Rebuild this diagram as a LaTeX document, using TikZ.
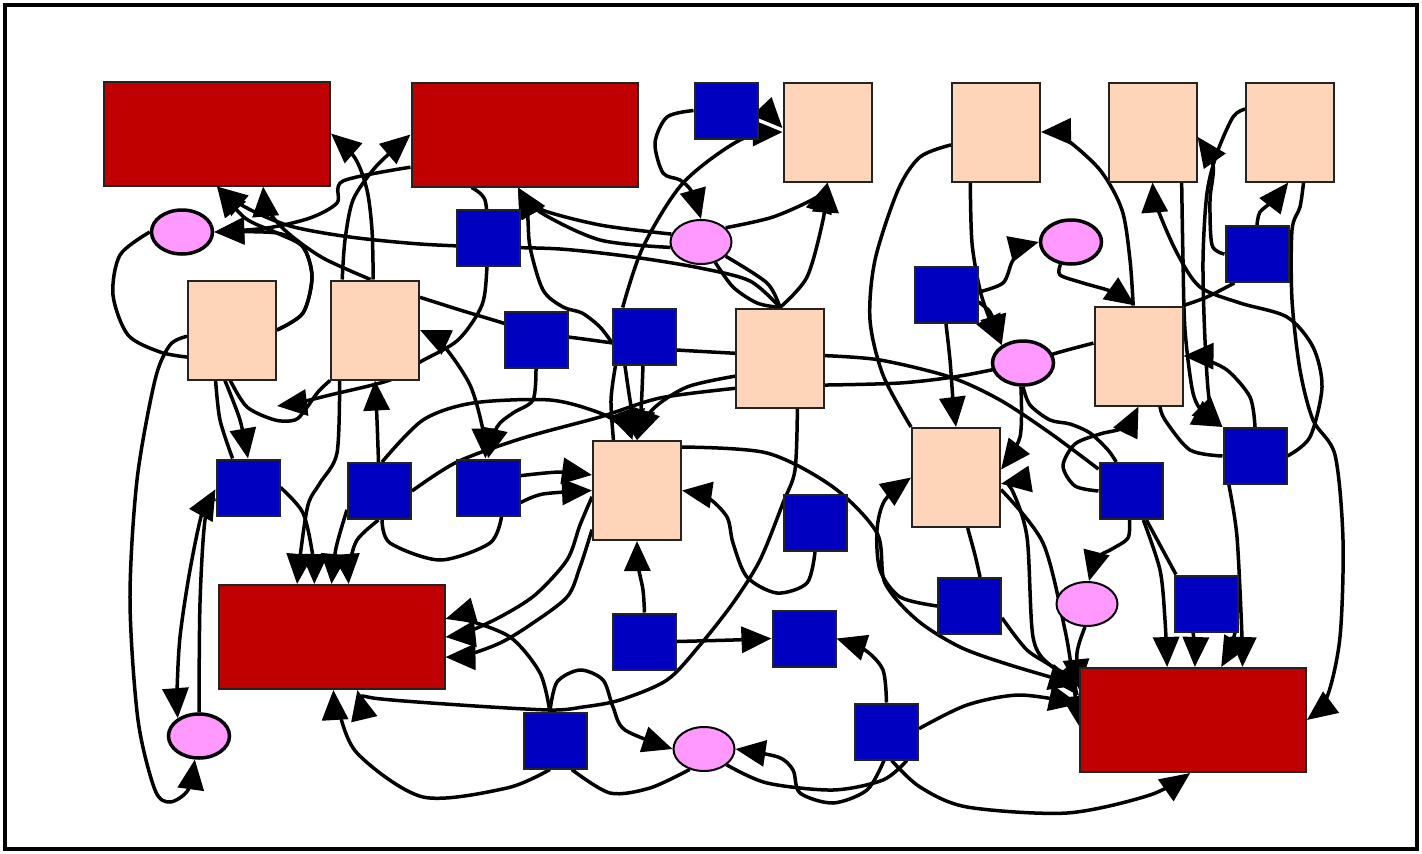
\documentclass[tikz,border=0pt]{standalone}
\usetikzlibrary{shapes.geometric,arrows.meta}
\pgfdeclarelayer{edges}
\pgfsetlayers{edges,main}
\definecolor{redfill}{RGB}{192,0,0}
\definecolor{peachfill}{RGB}{255,213,186}
\definecolor{bluefill}{RGB}{0,0,192}
\definecolor{pinkfill}{RGB}{255,153,255}
\definecolor{rim}{RGB}{35,35,35}
\tikzset{
  redbox/.style={rectangle, draw=rim, line width=2pt, fill=redfill, minimum width=226pt, minimum height=104pt, inner sep=0pt},
  peachbox/.style={rectangle, draw=rim, line width=2pt, fill=peachfill, minimum width=88pt, minimum height=99pt, inner sep=0pt},
  bluebox/.style={rectangle, draw=rim, line width=2pt, fill=bluefill, minimum width=63pt, minimum height=56pt, inner sep=0pt},
  pinkell/.style={ellipse, draw=black, line width=3.5pt, fill=pinkfill, minimum width=61pt, minimum height=44pt, inner sep=0pt},
  thinell/.style={pinkell, line width=2pt},
  edge/.style={line width=3.5pt, line join=round},
  tip/.style={Triangle[length=30pt,width=26pt]},
  arr/.style={edge, -{Triangle[length=30pt,width=26pt]}},
  arr2/.style={edge, {Triangle[length=30pt,width=26pt]}-{Triangle[length=30pt,width=26pt]}},
}
\begin{document}
\begin{tikzpicture}[x=1pt,y=-1pt]
\useasboundingbox (0,0) rectangle (1422,854);
\draw[line width=4.5pt] (5,5) rectangle (1417,849);

% red boxes
\node[redbox] (R1) at (217,133.5) {};
\node[redbox] (R2) at (524.5,134.5) {};
\node[redbox] (R3) at (331.5,637) {};
\node[redbox] (R4) at (1193,720) {};
% peach boxes
\node[peachbox] (P1) at (827.5,132) {};
\node[peachbox] (P2) at (996,132) {};
\node[peachbox] (P3) at (1152.5,132) {};
\node[peachbox] (P4) at (1290,132) {};
\node[peachbox] (P5) at (232,330) {};
\node[peachbox] (P6) at (375,330) {};
\node[peachbox] (P7) at (780,358) {};
\node[peachbox] (P8) at (1138.5,356) {};
\node[peachbox] (P9) at (637,490.5) {};
\node[peachbox] (P10) at (956,477.5) {};
% blue squares
\node[bluebox] (B1) at (726,110.5) {};
\node[bluebox] (B2) at (488,238) {};
\node[bluebox] (B3) at (1257,254) {};
\node[bluebox] (B4) at (946,295) {};
\node[bluebox] (B5) at (536,340) {};
\node[bluebox] (B6) at (644.5,336.5) {};
\node[bluebox] (B7) at (248,487.5) {};
\node[bluebox] (B8) at (379.5,491) {};
\node[bluebox] (B9) at (488,487.5) {};
\node[bluebox] (B10) at (815,523) {};
\node[bluebox] (B11) at (1131,491) {};
\node[bluebox] (B12) at (1255,456) {};
\node[bluebox] (B13) at (969.5,606) {};
\node[bluebox] (B14) at (1206,603.5) {};
\node[bluebox] (B15) at (644.5,641.5) {};
\node[bluebox] (B16) at (804,638.5) {};
\node[bluebox] (B17) at (555,740.5) {};
\node[bluebox] (B18) at (886.5,731.5) {};
% pink ellipses
\node[pinkell] (E1) at (182,232) {};
\node[thinell] (E2) at (701,242) {};
\node[pinkell] (E3) at (1071,242) {};
\node[pinkell] (E4) at (1023,363) {};
\node[thinell] (E5) at (1087,604) {};
\node[pinkell] (E6) at (199,736) {};
\node[thinell] (E7) at (704,749) {};
\coordinate (x1) at (277,406);

\begin{pgfonlayer}{edges}
% upper left
\draw[arr] plot[smooth] coordinates {(R2.196) (343,181) (337,203) (310,218) (267,228) (E1.east)};
\draw[arr] plot[smooth] coordinates {(P5.east) (303,313) (312,277) (303,247) (277,233) (E1.east)};
\draw[arr] plot[smooth] coordinates {(P5.east) (303,313) (312,277) (303,247) (277,233) (245,218) (R1.south)};
\draw[edge] plot[smooth] coordinates {(E1.west) (120,255) (113,295) (128,335) (160,352) (P5.211)};
\draw[arr] plot[smooth] coordinates {(P5.188) (170,345) (155,380) (137,480) (130,600) (138,720) (155,790) (170,802) (188,790) (E6.-100)};
\draw[arr] plot[smooth] coordinates {(P7.north) (750,281) (700,268) (633,257) (560,249) (488,247) (420,244) (350,237) (290,226) (245,207) (R1.south)};
\draw[arr] plot[smooth] coordinates {(P6.95) (323,258) (288,233) (268,210) (R1.-49)};
\draw[arr] plot[smooth] coordinates {(P6.123) (345,240) (353,200) (373,170) (393,150) (R2.west)};
\draw[arr] plot[smooth] coordinates {(P6.92) (372,230) (367,190) (355,158) (R1.east)};
\draw[arr] plot[smooth] coordinates {(R2.-135) (485,200) (488,238) (487,267) (482,305) (458,340) (420,362) (390,380) (330,395) (297,403) (x1)};
\draw[edge] plot[smooth] coordinates {(P6.36) (460,310) (503,323) (536,334) (568,337) (613,343) (644,347) (677,350) (P7.174)};
% middle and right
\draw[edge] plot[smooth] coordinates {(P7.3) (880,360) (950,377) (1000,400) (1050,433) (B11.146)};
\draw[edge] plot[smooth] coordinates {(P7.-31) (900,383) (960,376) (1023,363) (1060,352) (P8.164)};
\draw[edge] plot[smooth] coordinates {(E4.south) (1030,405) (1050,420) (1070,424) (1090,433) (1108,450) (B11.117)};
\draw[arr] plot[smooth] coordinates {(B11.west) (1075,486) (1063,466) (1075,444) (1100,434) (1125,427) (P8.south)};
\draw[arr] plot[smooth] coordinates {(B11.-93) (1128,538) (1112,549) (1097,558) (E5.85)};
\draw[arr] plot[smooth] coordinates {(B11.-67) (1160,570) (1165,620) (R4.116)};
\draw[edge] plot[smooth] coordinates {(B11.-62) (1160,545) (B14.136)};
\draw[arr] plot[smooth] coordinates {(B14.-114) (1195,650) (R4.88)};
\draw[arr] plot[smooth] coordinates {(B14.-45) (1230,650) (R4.62)};
\draw[arr] plot[smooth] coordinates {(B12.-132) (1237,537) (1242,637) (R4.47)};
\draw[arr] plot[smooth] coordinates {(P4.-75) (1300,207) (1292,230) (1292,300) (1300,370) (1313,420) (1335,455) (1343,540) (1340,637) (1327,697) (R4.east)};
\draw[arr] plot[smooth] coordinates {(B12.east) (1310,437) (1322,387) (1313,347) (1287,317) (1240,303) (1200,287) (1177,253) (1157,207) (P3.south)};
\draw[arr] plot[smooth] coordinates {(B12.north) (1250,397) (1227,370) (1200,358) (P8.east)};
\draw[edge] plot[smooth] coordinates {(B12.west) (1190,450) (1165,420) (P8.-67)};
\draw[arr] plot[smooth] coordinates {(P3.-60) (1183,260) (1185,330) (1193,393) (1205,415) (B12.north west)};
\draw[arr] plot[smooth] coordinates {(P4.153) (1233,117) (1217,153) (1207,193) (1203,260) (1205,340) (1210,405) (B12.north west)};
\draw[arr] plot[smooth] coordinates {(B3.west) (1212,245) (1210,200) (1213,165) (P3.-6)};
\draw[arr] plot[smooth] coordinates {(B3.north) (1260,212) (1274,200) (P4.-92)};
\draw[edge] plot[smooth] coordinates {(B3.-128) (1207,297) (P8.north east)};
\draw[arr] plot[smooth] coordinates {(P8.96) (1130,260) (1122,210) (1100,170) (1063,137) (P2.east)};
\draw[arr] plot[smooth] coordinates {(E3.-115) (1060,275) (1083,283) (1113,292) (P8.94)};
\draw[arr] plot[smooth] coordinates {(B4.5) (1003,283) (1012,262) (1022,248) (E3.west)};
\draw[arr] plot[smooth] coordinates {(P2.-117) (972,243) (980,290) (990,320) (E4.140)};
\draw[arr] plot[smooth] coordinates {(B4.-12) (990,312) (997,330) (E4.140)};
\draw[arr] plot[smooth] coordinates {(B4.south) (950,360) (953,400) (P10.north)};
\draw[edge] plot[smooth] coordinates {(P2.196) (920,157) (898,190) (875,260) (870,320) (883,375) (P10.north west)};
\draw[arr] plot[smooth] coordinates {(E4.-95) (1020,437) (P10.10)};
\draw[arr] plot[smooth] coordinates {(R4.160) (1050,665) (1033,637) (1027,537) (1012,490) (P10.-8)};
\draw[arr] plot[smooth] coordinates {(P10.-15) (1043,543) (1065,630) (1073,680) (R4.183)};
\draw[arr] plot[smooth] coordinates {(E5.-95) (1077,653) (R4.165)};
\draw[arr] plot[smooth] coordinates {(B13.-20) (1027,650) (1057,670) (R4.168)};
\draw[arr] plot[smooth] coordinates {(P9.44) (767,453) (833,487) (877,533) (885,583) (917,620) (960,647) (1010,665) (R4.163)};
\draw[arr] plot[smooth] coordinates {(B13.west) (900,597) (880,570) (877,530) (885,500) (P10.west)};
\draw[edge] plot[smooth] coordinates {(P10.-77) (975,555) (B13.70)};
% lower band
\draw[arr] plot[smooth] coordinates {(B18.5) (967,705) (1020,695) (R4.172)};
\draw[arr] plot[smooth] coordinates {(B18.-80) (920,787) (967,807) (1067,813) (1150,795) (R4.-93)};
\draw[arr] plot[smooth] coordinates {(B18.-95) (867,790) (833,803) (800,793) (793,770) (778,757) (E7.east)};
\draw[edge] plot[smooth] coordinates {(E7.-35) (767,783) (833,790) (883,780) (B18.-55)};
\draw[arr] plot[smooth] coordinates {(B18.north) (883,670) (865,650) (B16.east)};
\draw[arr] plot[smooth] coordinates {(B15.east) (733,640) (B16.west)};
\draw[arr] plot[smooth] coordinates {(B15.north) (643,590) (638,565) (P9.south)};
\draw[arr] plot[smooth] coordinates {(B10.south) (807,583) (777,593) (747,577) (733,543) (727,517) (707,497) (P9.east)};
\draw[arr] plot[smooth] coordinates {(P7.-71) (795,470) (783,503) (760,560) (733,603) (700,645) (667,680) (620,700) (583,707) (550,710) (460,705) (373,698) (R3.-64)};
\draw[arr] plot[smooth] coordinates {(B17.-100) (507,788) (423,797) (357,753) (337,705) (R3.-88)};
\draw[arr] plot[smooth] coordinates {(B17.100) (540,673) (510,637) (463,619) (R3.9)};
\draw[arr] plot[smooth] coordinates {(P9.188) (580,525) (567,560) (535,595) (500,617) (465,633) (R3.east)};
\draw[arr] plot[smooth] coordinates {(P9.221) (580,567) (567,597) (530,625) (500,643) (467,655) (R3.-10)};
\draw[arr] plot[smooth] coordinates {(B17.100) (557,682) (580,670) (603,680) (613,707) (625,730) (E7.west)};
\draw[edge] plot[smooth] coordinates {(B17.-60) (610,793) (650,788) (E7.-125)};
\draw[arr] plot[smooth] coordinates {(B9.20) (560,472) (P9.161)};
\draw[arr] plot[smooth] coordinates {(B9.-25) (543,494) (P9.west)};
\draw[arr] plot[smooth] coordinates {(B5.south) (533,400) (513,413) (497,427) (B9.north)};
\draw[arr2] plot[smooth] coordinates {(B9.95) (483,430) (470,385) (443,345) (P6.east)};
\draw[arr] plot[smooth] coordinates {(B8.92) (377,420) (P6.south)};
\draw[arr] plot[smooth] coordinates {(B8.85) (423,420) (473,403) (550,400) (600,413) (625,428) (P9.95)};
\draw[edge] plot[smooth] coordinates {(B8.east) (457,462) (523,438) (600,417) (660,398) (P7.214)};
\draw[arr] plot[smooth] coordinates {(P7.202) (687,387) (652,410) (P9.north)};
\draw[arr] plot[smooth] coordinates {(B6.-124) (630,400) (P9.north)};
\draw[arr] plot[smooth] coordinates {(B6.-93) (641,410) (P9.north)};
\draw[edge] plot[smooth] coordinates {(B6.-135) (611,400) (P9.115)};
\draw[arr] plot[smooth] coordinates {(B6.127) (643,247) (683,183) (740,140) (P1.west)};
\draw[arr] plot[smooth] coordinates {(B1.west) (667,117) (655,143) (663,173) (680,180) (692,192) (E2.north)};
\draw[arr] plot[smooth] coordinates {(B1.east) (770,116) (P1.175)};
\draw[arr] plot[smooth] coordinates {(E2.30) (773,217) (817,197) (P1.south)};
\draw[arr] plot[smooth] coordinates {(P7.north) (807,277) (823,220) (P1.south)};
\draw[arr] plot[smooth] coordinates {(E2.165) (600,225) (537,208) (R2.-97)};
\draw[arr] plot[smooth] coordinates {(E2.190) (600,240) (540,212) (R2.-97)};
\draw[arr] plot[smooth] coordinates {(B6.191) (600,327) (582,313) (563,307) (543,290) (530,247) (527,210) (R2.-97)};
\draw[edge] plot[smooth] coordinates {(E2.-55) (733,287) (757,303) (P7.north)};
\draw[edge] plot[smooth] coordinates {(E2.-30) (767,283) (P7.north)};
% lower left
\draw[arr] plot[smooth] coordinates {(E6.north) (200,603) (205,520) (B7.183)};
\draw[arr] plot[smooth] coordinates {(B7.200) (203,510) (190,570) (180,637) (177,693) (E6.140)};
\draw[edge] plot[smooth] coordinates {(P5.-108) (220,420) (B7.118)};
\draw[arr] plot[smooth] coordinates {(P5.-98) (240,420) (B7.north)};
\draw[edge] plot[smooth] coordinates {(P5.-92) (247,407) (275,420) (295,420) (305,410) (318,392) (P6.south west)};
\draw[arr] plot[smooth] coordinates {(P6.-125) (337,453) (320,483) (308,505) (300,557) (R3.123)};
\draw[arr] plot[smooth] coordinates {(B7.east) (303,513) (313,557) (R3.108)};
\draw[arr] plot[smooth] coordinates {(B8.210) (336,548) (R3.90)};
\draw[arr] plot[smooth] coordinates {(B8.-92) (357,540) (349,567) (R3.72)};
\draw[edge] plot[smooth] coordinates {(B8.-85) (390,543) (440,560) (490,543) (B9.-65)};
\end{pgfonlayer}
\end{tikzpicture}
\end{document}
